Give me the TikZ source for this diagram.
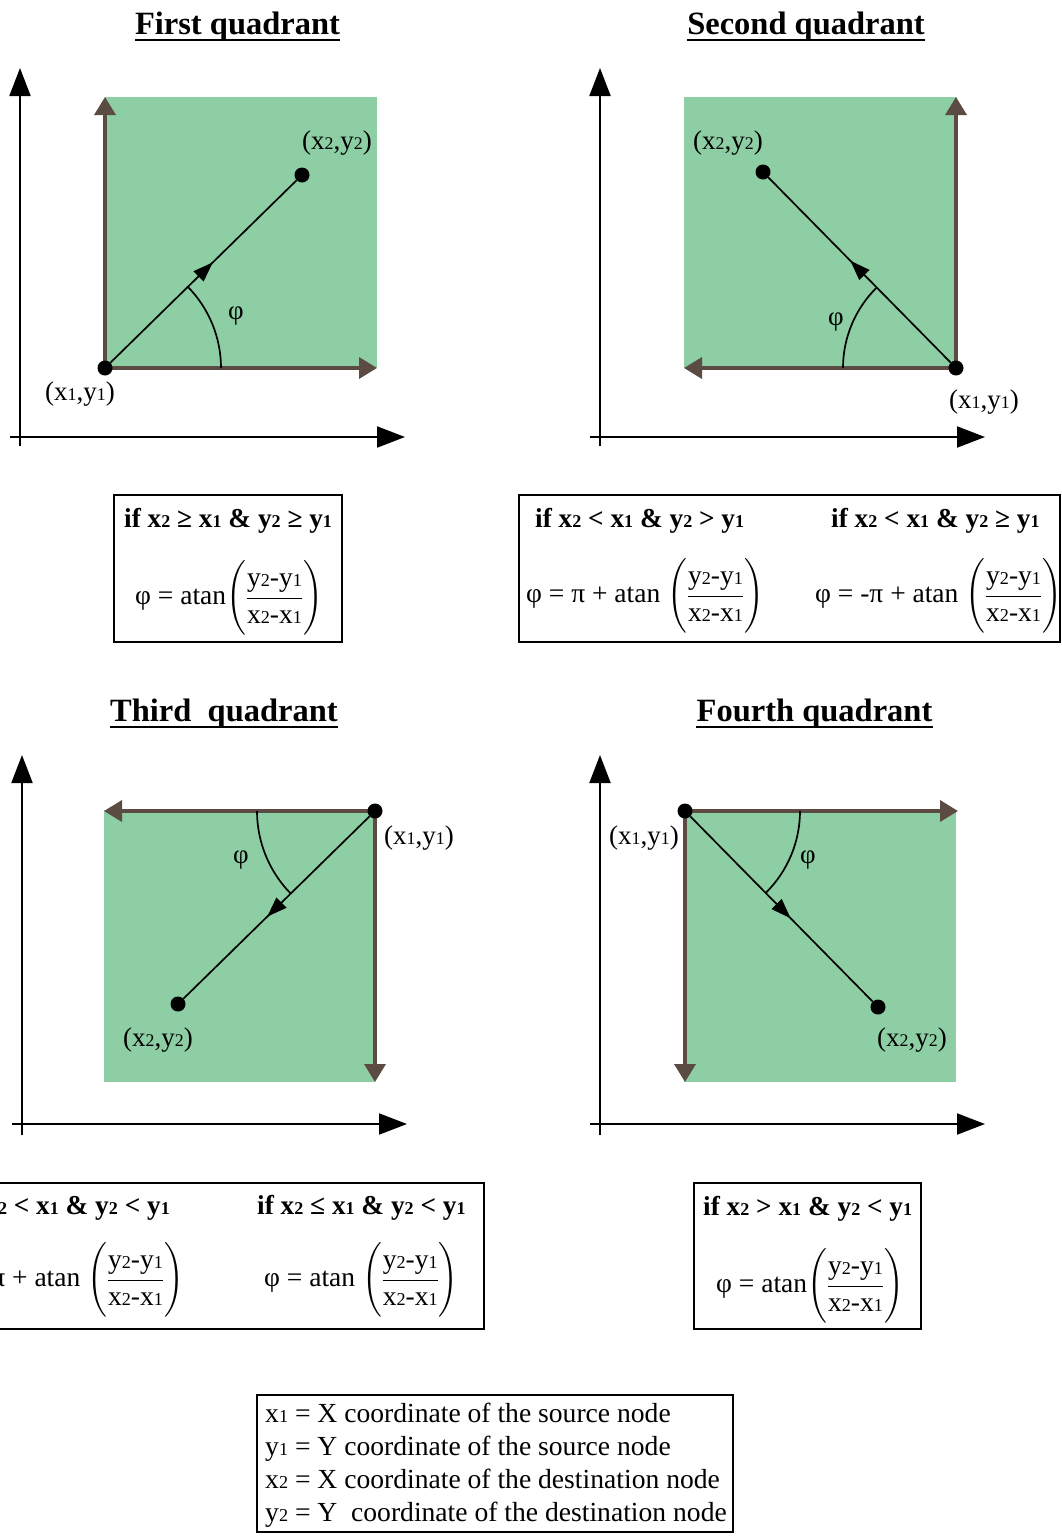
\RequirePackage{fix-cm}
\documentclass[tikz,border=0pt]{standalone}
\usepackage{amsmath}
\usepackage{graphicx}
\usepackage{fontspec}
\setmainfont{Liberation Serif}
\usetikzlibrary{arrows.meta,decorations.markings}
\definecolor{qgreen}{RGB}{141,206,164}
\definecolor{qbrown}{RGB}{91,75,66}
\newcommand\sbs[1]{\scalebox{0.66}{#1}}
\newcommand\frc{$\left(\vcenter{\hbox{\rule{0pt}{78pt}}}\dfrac{\text{y\sbs{2}-y\sbs{1}}}{\text{x\sbs{2}-x\sbs{1}}}\right)$}
\begin{document}
\begin{tikzpicture}[x=1pt,y=-1pt,
  bigaxis/.style={line width=2pt,-{Triangle[length=28pt,width=21pt]}},
  edgearr/.style={qbrown,line width=3.5pt,-{Triangle[length=18pt,width=21pt]}},
  vecline/.style={line width=1.7pt,postaction={decorate},
    decoration={markings,mark=at position 0.55 with {\arrow{Triangle[length=20pt,width=14pt]}}}},
  arcline/.style={line width=1.7pt},
  dot/.style={circle,fill=black,minimum size=15pt,inner sep=0pt},
  lbl/.style={font=\fontsize{27}{31}\selectfont,inner sep=0pt},
  qtitle/.style={font=\fontsize{32.5}{36}\selectfont\bfseries,inner sep=0pt,anchor=base},
  uline/.style={line width=2pt},
  hdr/.style={font=\fontsize{27.3}{32}\selectfont\bfseries,inner sep=0pt},
  ftext/.style={font=\fontsize{27.5}{32}\selectfont,inner sep=0pt},
  frame/.style={line width=1.5pt},
  legend/.style={font=\fontsize{27.6}{33}\selectfont,inner sep=0pt,anchor=base west}]
\useasboundingbox (0,0) rectangle (1062,1537);
\clip (0,0) rectangle (1062,1537);

% ---------- titles ----------
\node[qtitle] (T1) at (237.5,34) {First quadrant};
\node[qtitle] (T2) at (806,34) {Second quadrant};
\node[qtitle] (T3) at (224,721) {Third\ \ quadrant};
\node[qtitle] (T4) at (814.5,721) {Fourth quadrant};
\foreach \t in {T1,T2,T3,T4}
  \draw[uline] ([yshift=-6pt]\t.base west) -- ([yshift=-6pt]\t.base east);

% ---------- panel 1 ----------
\coordinate (a1b) at (20,446); \coordinate (a1t) at (20,68);
\coordinate (a1l) at (10,437); \coordinate (a1r) at (405,437);
\draw[bigaxis] (a1b) -- (a1t);
\draw[bigaxis] (a1l) -- (a1r);
\fill[qgreen] (105,97) rectangle (377,368);
\coordinate (s1) at (105,368);
\coordinate (h1) at (377,368);
\coordinate (v1) at (105,97);
\draw[edgearr] (s1) -- (h1);
\draw[edgearr] (s1) -- (v1);
\draw[arcline] (s1) ++(0:116) arc[start angle=0,end angle=-44.4,radius=116];
\node[dot] (S1) at (s1) {};
\node[dot] (D1) at (302,175) {};
\draw[vecline] (S1) -- (D1);
\node[lbl] (L1a) at (337,143) {(x\sbs{2},y\sbs{2})};
\node[lbl] (L1b) at (80,394) {(x\sbs{1},y\sbs{1})};
\node[lbl] (P1) at (236,316) {φ};

% ---------- panel 2 ----------
\coordinate (a2b) at (600,446); \coordinate (a2t) at (600,68);
\coordinate (a2l) at (590,437); \coordinate (a2r) at (985,437);
\draw[bigaxis] (a2b) -- (a2t);
\draw[bigaxis] (a2l) -- (a2r);
\fill[qgreen] (684,97) rectangle (957,368);
\coordinate (s2) at (956,368);
\coordinate (h2) at (684,368);
\coordinate (v2) at (956,97);
\draw[edgearr] (s2) -- (h2);
\draw[edgearr] (s2) -- (v2);
\draw[arcline] (s2) ++(180:113) arc[start angle=180,end angle=225.4,radius=113];
\node[dot] (S2) at (s2) {};
\node[dot] (D2) at (763,172) {};
\draw[vecline] (S2) -- (D2);
\node[lbl] (L2a) at (728,143) {(x\sbs{2},y\sbs{2})};
\node[lbl] (L2b) at (984,402) {(x\sbs{1},y\sbs{1})};
\node[lbl] (P2) at (836,322) {φ};

% ---------- panel 3 ----------
\coordinate (a3b) at (22,1135); \coordinate (a3t) at (22,755);
\coordinate (a3l) at (12,1124); \coordinate (a3r) at (407,1124);
\draw[bigaxis] (a3b) -- (a3t);
\draw[bigaxis] (a3l) -- (a3r);
\fill[qgreen] (104,810) rectangle (375,1082);
\coordinate (s3) at (375,811);
\coordinate (h3) at (104,811);
\coordinate (v3) at (375,1082);
\draw[edgearr] (s3) -- (h3);
\draw[edgearr] (s3) -- (v3);
\draw[arcline] (s3) ++(180:118) arc[start angle=180,end angle=135.6,radius=118];
\node[dot] (S3) at (s3) {};
\node[dot] (D3) at (178,1004) {};
\draw[vecline] (S3) -- (D3);
\node[lbl] (L3a) at (419,838) {(x\sbs{1},y\sbs{1})};
\node[lbl] (L3b) at (158,1040) {(x\sbs{2},y\sbs{2})};
\node[lbl] (P3) at (241,860) {φ};

% ---------- panel 4 ----------
\coordinate (a4b) at (600,1135); \coordinate (a4t) at (600,755);
\coordinate (a4l) at (590,1124); \coordinate (a4r) at (985,1124);
\draw[bigaxis] (a4b) -- (a4t);
\draw[bigaxis] (a4l) -- (a4r);
\fill[qgreen] (684,810) rectangle (956,1082);
\coordinate (s4) at (685,811);
\coordinate (h4) at (958,811);
\coordinate (v4) at (685,1082);
\draw[edgearr] (s4) -- (h4);
\draw[edgearr] (s4) -- (v4);
\draw[arcline] (s4) ++(0:115) arc[start angle=0,end angle=45.4,radius=115];
\node[dot] (S4) at (s4) {};
\node[dot] (D4) at (878,1007) {};
\draw[vecline] (S4) -- (D4);
\node[lbl] (L4a) at (644,838) {(x\sbs{1},y\sbs{1})};
\node[lbl] (L4b) at (912,1040) {(x\sbs{2},y\sbs{2})};
\node[lbl] (P4) at (808,860) {φ};

% ---------- condition boxes ----------
\draw[frame] (114,495) rectangle (342,642);
\node[hdr,anchor=base west] (H1) at (124,527) {if x\sbs{2} ≥ x\sbs{1} \& y\sbs{2} ≥ y\sbs{1}};
\node[ftext,anchor=west] (F1) at (135,598) {φ = atan\frc};

\draw[frame] (519,495) rectangle (1060,642);
\node[hdr,anchor=base west] (H2a) at (535,527) {if x\sbs{2} < x\sbs{1} \& y\sbs{2} > y\sbs{1}};
\node[hdr,anchor=base west] (H2b) at (831,527) {if x\sbs{2} < x\sbs{1} \& y\sbs{2} ≥ y\sbs{1}};
\node[ftext,anchor=west] (F2a) at (526,596) {φ = π + atan \frc};
\node[ftext,anchor=west] (F2b) at (815,596) {φ = -π + atan \frc};

\draw[frame] (-80,1183) rectangle (484,1329);
\node[hdr,anchor=base east] (H3a) at (170,1214) {if x\sbs{2} < x\sbs{1} \& y\sbs{2} < y\sbs{1}};
\node[hdr,anchor=base west] (H3b) at (257,1214) {if x\sbs{2} ≤ x\sbs{1} \& y\sbs{2} < y\sbs{1}};
\node[ftext,anchor=east] (F3a) at (184,1280) {φ = -π + atan \frc};
\node[ftext,anchor=west] (F3b) at (264,1280) {φ = atan \frc};

\draw[frame] (694,1183) rectangle (921,1329);
\node[hdr,anchor=base west] (H4) at (703,1215) {if x\sbs{2} > x\sbs{1} \& y\sbs{2} < y\sbs{1}};
\node[ftext,anchor=west] (F4) at (716,1286) {φ = atan\frc};

% ---------- legend ----------
\draw[frame] (257,1395) rectangle (733,1532);
\node[legend] (G1) at (265,1422) {x\sbs{1} = X coordinate of the source node};
\node[legend] (G2) at (265,1455) {y\sbs{1} = Y coordinate of the source node};
\node[legend] (G3) at (265,1488) {x\sbs{2} = X coordinate of the destination node};
\node[legend] (G4) at (265,1521) {y\sbs{2} = Y\ \ coordinate of the destination node};
\end{tikzpicture}
\end{document}
